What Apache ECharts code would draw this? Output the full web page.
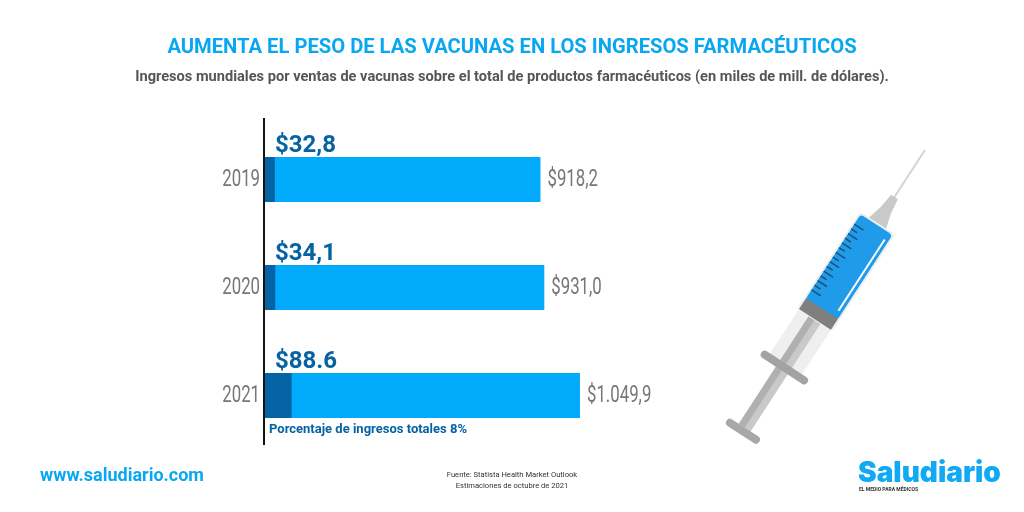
<!DOCTYPE html>
<html>
<head>
<meta charset="utf-8">
<title>Vacunas</title>
<script src="https://cdn.jsdelivr.net/npm/echarts@6/dist/echarts.min.js"></script>
<style>
  html, body { margin: 0; padding: 0; background: #fff; }
  #main { width: 1024px; height: 512px; }
</style>
</head>
<body>
<div id="main"></div>
<script>
// datos
var years = ['2019', '2020', '2021'];
var totalValues = [918.2, 931.0, 1049.9];
var vaccineValues = [32.8, 34.1, 88.6];
var totalLabels = ['$918,2', '$931,0', '$1.049,9'];
var vaccineLabels = ['$32,8', '$34,1', '$88.6'];

var chartTitle = 'AUMENTA EL PESO DE LAS VACUNAS EN LOS INGRESOS FARMACÉUTICOS';
var chartSubtitle = 'Ingresos mundiales por ventas de vacunas sobre el total de productos farmacéuticos (en miles de mill. de dólares).';
var shareNote = 'Porcentaje de ingresos totales 8%';
var sourceLines = 'Fuente: Statista Health Market Outlook\nEstimaciones de octubre de 2021';
var siteUrl = 'www.saludiario.com';

var CYAN = '#02aafc';
var DARK = '#0563a3';
var din = 'Roboto, sans-serif';

// no hay fuente condensada instalada: se comprime el texto en X
function narrowText(x, y, text, align) {
    return {
        type: 'text', x: x, y: y, scaleX: 0.73,
        style: { text: text, fill: '#777777', font: '23px ' + din, textAlign: align, textVerticalAlign: 'middle' }
    };
}

// jeringa dibujada vertical (punta en 0,0) y luego girada
function bar(x, y, w, h, fill, r) {
    return { type: 'rect', shape: { x: x, y: y, width: w, height: h, r: r || 0 }, style: { fill: fill } };
}
function syringe() {
    var kids = [
        bar(-1, 0, 2, 62, '#d4d4d4'),
        { type: 'polygon', shape: { points: [[-4, 56], [4, 56], [6, 72], [11, 90], [-11, 90], [-6, 72]] }, style: { fill: '#c9c9c9' } },
        bar(-19, 201, 38, 58, '#efefef'),
        bar(-7, 201, 14, 130, '#c9c9c9'),
        bar(-7, 201, 7, 130, '#b0b0b0'),
        bar(-27, 255, 55, 8, '#a3a3a3', 4),
        bar(-19, 331, 39, 8, '#a8a8a8', 4),
        bar(-21, 87, 42, 116, '#eceff1', 4),
        bar(-19, 89, 38, 102, '#1f9bea', 4),
        bar(-19, 189, 38, 13, '#7f7f7f'),
        bar(14, 97, 2, 85, '#ffffff')
    ];
    for (var i = 0; i < 15; i++) {
        kids.push(bar(-19, 100 + i * 5.6, i % 2 ? 7 : 11, 1.5, '#1d4f7c'));
    }
    return {
        type: 'group',
        x: 925, y: 150,
        rotation: -33 * Math.PI / 180,
        children: kids
    };
}

var myChart = echarts.init(document.getElementById('main'));
myChart.setOption({
    animation: false,
    backgroundColor: '#ffffff',
    title: [
        { text: chartTitle, left: 'center', top: 33,
          textStyle: { color: '#09a7f2', fontFamily: din, fontWeight: 'bold', fontSize: 20.2 } },
        { text: chartSubtitle, left: 'center', top: 65,
          textStyle: { color: '#565656', fontFamily: din, fontWeight: 'bold', fontSize: 14.6 } }
    ],
    grid: { left: 265, top: 125.5, width: 360, height: 324 },
    xAxis: { type: 'value', min: 0, max: 1200, show: false },
    yAxis: {
        type: 'category',
        data: years,
        inverse: true,
        axisLine: { show: false },
        axisTick: { show: false },
        axisLabel: { show: false }
    },
    series: [
        {
            type: 'bar',
            name: 'Total',
            data: totalValues,
            barWidth: 45,
            barGap: '-100%',
            itemStyle: { color: CYAN }
        },
        {
            type: 'bar',
            name: 'Vacunas',
            data: vaccineValues,
            barWidth: 45,
            itemStyle: { color: DARK },
            label: {
                show: true, position: 'insideLeft', distance: 0, offset: [10, -34],
                color: DARK, fontFamily: din, fontWeight: 'bold', fontSize: 24,
                formatter: function (p) { return vaccineLabels[p.dataIndex]; }
            }
        },
        {
            type: 'custom',
            name: 'Etiquetas',
            data: totalValues.map(function (v, i) { return [v, i]; }),
            encode: { x: 0, y: 1 },
            clip: false,
            renderItem: function (params, api) {
                var end = api.coord([api.value(0), api.value(1)]);
                var start = api.coord([0, api.value(1)]);
                var i = params.dataIndex;
                return {
                    type: 'group',
                    children: [
                        narrowText(start[0] - 5, start[1] + 1, years[i], 'right'),
                        narrowText(end[0] + 7, end[1] + 1, totalLabels[i], 'left')
                    ]
                };
            }
        }
    ],
    graphic: [
        { type: 'line', shape: { x1: 264, y1: 118, x2: 264, y2: 445 }, style: { stroke: '#111111', lineWidth: 2 } },
        { type: 'text', x: 269, y: 423, style: { text: shareNote, fill: DARK, font: 'bold 13px ' + din } },
        { type: 'text', x: 40, y: 467, style: { text: siteUrl, fill: '#09a7f2', font: 'bold 18px ' + din } },
        { type: 'text', x: 512, y: 470, style: { text: sourceLines, fill: '#333333', font: '7.6px ' + din, align: 'center', lineHeight: 10.5 } },
        { type: 'text', x: 858, y: 460, style: { text: 'Saludiario', fill: '#0fa9f5', font: '900 28px Inter, sans-serif' } },
        { type: 'text', x: 859, y: 487, style: { text: 'EL MEDIO PARA MÉDICOS', fill: '#333333', font: 'bold 5px ' + din } },
        syringe()
    ]
});
</script>
</body>
</html>
